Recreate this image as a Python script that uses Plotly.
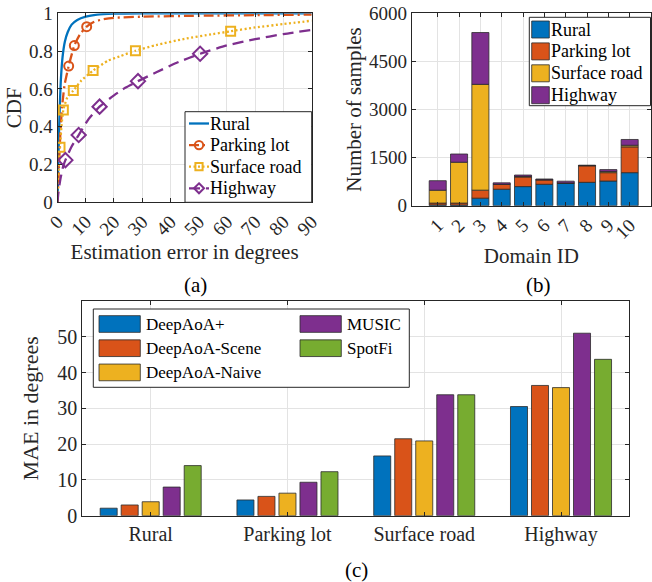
import numpy as np
import plotly.graph_objects as go

W, H = 652, 582
FONT = "Times New Roman, Tinos, Liberation Serif, serif"
TXT = "#262626"
AX = "#262626"
GRID = "#e3e3e3"
EDGE = "#2b2b2b"

BLUE, ORANGE, YELLOW, PURPLE, GREEN = "#0072BD", "#D95319", "#EDB120", "#7E2F8E", "#77AC30"

# ---------------- (a) CDF of estimation error per scene ----------------
scenes = ["Rural", "Parking lot", "Surface road", "Highway"]

rural_err = [0, 0.2, 0.5, 0.8, 1.2, 1.8, 2.6, 3.6, 5, 7, 10, 14, 20, 30, 90]
rural_cdf = [0, 0.15, 0.35, 0.5, 0.65, 0.77, 0.85, 0.9, 0.94, 0.965, 0.982, 0.993, 0.998, 1.0, 1.0]

parking_err = [0, 0.3, 0.6, 1.0, 1.6, 2.5, 3.96, 5.96, 8, 10.33, 13, 16, 20, 30, 50, 70, 90]
parking_cdf = [0, 0.1, 0.22, 0.36, 0.5, 0.62, 0.721, 0.829, 0.89, 0.929, 0.955, 0.968, 0.976,
               0.982, 0.987, 0.99, 0.993]
parking_mk_err = [3.96, 5.96, 10.33]
parking_mk_cdf = [0.721, 0.829, 0.929]

surface_err = [0, 0.2, 0.5, 0.89, 1.4, 2.07, 3.5, 5.6, 8.5, 12.6, 18, 22, 27.6, 35, 45, 55,
               61.3, 70, 80, 90]
surface_cdf = [0, 0.1, 0.2, 0.291, 0.4, 0.489, 0.555, 0.591, 0.645, 0.697, 0.75, 0.772, 0.802,
               0.832, 0.865, 0.89, 0.905, 0.925, 0.943, 0.961]
surface_mk_err = [0.89, 2.07, 5.6, 12.6, 27.6, 61.3]
surface_mk_cdf = [0.291, 0.489, 0.591, 0.697, 0.802, 0.905]

highway_err = [0, 0.3, 1, 2, 2.8, 5, 7.5, 11, 14.9, 20, 24, 28.5, 35, 42, 50.5, 60, 70, 80, 90]
highway_cdf = [0, 0.05, 0.12, 0.19, 0.223, 0.295, 0.356, 0.44, 0.506, 0.566, 0.606, 0.641,
               0.688, 0.737, 0.786, 0.83, 0.863, 0.89, 0.912]
highway_mk_err = [2.8, 7.5, 14.9, 28.5, 50.5]
highway_mk_cdf = [0.223, 0.356, 0.506, 0.641, 0.786]

err_ticks = list(range(0, 91, 10))
cdf_ticks = [0, 0.2, 0.4, 0.6, 0.8, 1]
cdf_ticktext = ["0", "0.2", "0.4", "0.6", "0.8", "1"]

# ---------------- (b) number of samples per domain ----------------
domain_ids = list(range(1, 11))
rural_cnt = [25, 20, 235, 514, 596, 668, 695, 729, 770, 1030]
parking_cnt = [57, 62, 250, 154, 300, 135, 15, 514, 260, 805]
surface_cnt = [401, 1274, 3300, 0, 15, 10, 0, 10, 35, 50]
highway_cnt = [297, 256, 1615, 45, 45, 20, 55, 10, 60, 180]
count_ticks = [0, 1500, 3000, 4500, 6000]

# ---------------- (c) MAE per method and scene ----------------
methods = ["DeepAoA+", "DeepAoA-Scene", "DeepAoA-Naive", "MUSIC", "SpotFi"]
mae_deepaoa_plus = [2.1, 4.4, 16.7, 30.5]
mae_deepaoa_scene = [3.0, 5.4, 21.5, 36.4]
mae_deepaoa_naive = [3.9, 6.3, 20.9, 35.8]
mae_music = [8.0, 9.35, 33.8, 51.0]
mae_spotfi = [14.0, 12.3, 33.8, 43.7]
mae_ticks = [0, 10, 20, 30, 40, 50]


def px(x):
    return x / W


def py(y):
    return 1 - y / H


fig = go.Figure()

# (a) curves
curve_specs = [
    (scenes[0], rural_err, rural_cdf, None, None, BLUE, "solid", None),
    (scenes[1], parking_err, parking_cdf, parking_mk_err, parking_mk_cdf, ORANGE,
     "10px,4px,2px,4px", "circle-open"),
    (scenes[2], surface_err, surface_cdf, surface_mk_err, surface_mk_cdf, YELLOW,
     "2px,2.5px", "square-open"),
    (scenes[3], highway_err, highway_cdf, highway_mk_err, highway_mk_cdf, PURPLE,
     "11px,6px", "diamond-open"),
]
for name, xe, yc, mx, my, col, dash, sym in curve_specs:
    fig.add_trace(go.Scatter(
        x=xe, y=yc, mode="lines", name=name, showlegend=False, hoverinfo="skip",
        line=dict(color=col, width=2.3, dash=dash, shape="spline", smoothing=0.6),
        xaxis="x", yaxis="y"))
    if mx is not None:
        fig.add_trace(go.Scatter(
            x=mx, y=my, mode="markers", name=name, showlegend=False, hoverinfo="skip",
            marker=dict(symbol=sym, size=9 if sym != "diamond-open" else 11, color=col,
                        line=dict(width=2, color=col)),
            xaxis="x", yaxis="y"))

# (b) stacked bars
scene_colors = [BLUE, ORANGE, YELLOW, PURPLE]
base = np.zeros(len(domain_ids))
for name, vals, col in zip(scenes, [rural_cnt, parking_cnt, surface_cnt, highway_cnt], scene_colors):
    vals = np.array(vals, dtype=float)
    fig.add_trace(go.Bar(
        x=domain_ids, y=vals, base=base.copy(), width=0.8, offsetgroup="counts", name=name,
        showlegend=False, marker=dict(color=col, line=dict(color=EDGE, width=0.8)),
        xaxis="x2", yaxis="y2"))
    base = base + vals

# (c) grouped bars
method_colors = [BLUE, ORANGE, YELLOW, PURPLE, GREEN]
method_vals = [mae_deepaoa_plus, mae_deepaoa_scene, mae_deepaoa_naive, mae_music, mae_spotfi]
for name, vals, col in zip(methods, method_vals, method_colors):
    fig.add_trace(go.Bar(
        x=scenes, y=vals, name=name, showlegend=False,
        marker=dict(color=col, line=dict(color=EDGE, width=0.8)),
        xaxis="x3", yaxis="y3"))


def tfont(size, color=TXT):
    return dict(family=FONT, size=size, color=color)


def axis(**kw):
    d = dict(showline=True, linecolor=AX, linewidth=1, mirror="ticks", ticks="inside",
             ticklen=4, tickcolor=AX, tickwidth=1, showgrid=True, gridcolor=GRID, gridwidth=1,
             zeroline=False, tickfont=tfont(19))
    d.update(kw)
    return d


layout = dict(
    width=W, height=H, margin=dict(l=0, r=0, t=0, b=0), template="none",
    paper_bgcolor="white", plot_bgcolor="white", barmode="group",
    bargap=0.232, bargroupgap=0.19, showlegend=False,
    font=dict(family=FONT, color=TXT),
    xaxis=axis(domain=[px(57.5), px(311.7)], range=[0, 90], tickvals=err_ticks,
               tickangle=-45, anchor="y",
               title=dict(text="Estimation error in degrees", font=tfont(21), standoff=4)),
    yaxis=axis(domain=[py(202.3), py(13.3)], range=[0, 1], tickvals=cdf_ticks,
               ticktext=cdf_ticktext, anchor="x",
               title=dict(text="CDF", font=tfont(21), standoff=1)),
    xaxis2=axis(domain=[px(411.7), px(651)], range=[-0.22, 11], tickvals=domain_ids,
                tickangle=-45, anchor="y2",
                title=dict(text="Domain ID", font=tfont(21), standoff=6)),
    yaxis2=axis(domain=[py(205.7), py(13.3)], range=[0, 6000], tickvals=count_ticks,
                anchor="x2",
                title=dict(text="Number of samples", font=tfont(21), standoff=1)),
    xaxis3=axis(domain=[px(82.3), px(629.4)], range=[-0.5, 3.5], type="category",
                anchor="y3", tickfont=tfont(20)),
    yaxis3=axis(domain=[py(515.7), py(301)], range=[0, 60], tickvals=mae_ticks,
                anchor="x3", tickfont=tfont(20),
                title=dict(text="MAE in degrees", font=tfont(22), standoff=12)),
)
fig.update_layout(**layout)

shapes = []
annotations = []


def legend_box(x0, y0, x1, y1):
    shapes.append(dict(type="rect", xref="paper", yref="paper", x0=px(x0), x1=px(x1),
                       y0=py(y1), y1=py(y0), fillcolor="white",
                       line=dict(color=AX, width=1), layer="above"))


def legend_text(x, y, text, size):
    annotations.append(dict(x=px(x), y=py(y), xref="paper", yref="paper", text=text,
                            showarrow=False, xanchor="left", yanchor="middle",
                            font=tfont(size, "black")))


def legend_swatch(x0, x1, yc, h, col):
    shapes.append(dict(type="rect", xref="paper", yref="paper", x0=px(x0), x1=px(x1),
                       y0=py(yc + h / 2), y1=py(yc - h / 2), fillcolor=col,
                       line=dict(color=EDGE, width=0.8), layer="above"))


# legend (a)
legend_box(185, 111.7, 311.7, 202.3)
for i, (name, _, _, _, _, col, dash, sym) in enumerate(curve_specs):
    yc = 123.5 + 21.6 * i
    shapes.append(dict(type="line", xref="paper", yref="paper", x0=px(189), x1=px(209),
                       y0=py(yc), y1=py(yc), line=dict(color=col, width=2.3, dash=dash),
                       layer="above"))
    cx, r = 199, 4.2
    if sym == "circle-open":
        shapes.append(dict(type="circle", xref="paper", yref="paper", x0=px(cx - r),
                           x1=px(cx + r), y0=py(yc + r), y1=py(yc - r),
                           line=dict(color=col, width=2), layer="above"))
    elif sym == "square-open":
        r = 3.6
        shapes.append(dict(type="rect", xref="paper", yref="paper", x0=px(cx - r),
                           x1=px(cx + r), y0=py(yc + r), y1=py(yc - r),
                           line=dict(color=col, width=2), layer="above"))
    elif sym == "diamond-open":
        r = 5
        path = (f"M {px(cx)},{py(yc - r)} L {px(cx + r)},{py(yc)} "
                f"L {px(cx)},{py(yc + r)} L {px(cx - r)},{py(yc)} Z")
        shapes.append(dict(type="path", xref="paper", yref="paper", path=path,
                           line=dict(color=col, width=2), layer="above"))
    legend_text(208, yc, name, 18)

# legend (b)
legend_box(529.3, 17.3, 650.5, 105.7)
for i, (name, col) in enumerate(zip(scenes, scene_colors)):
    yc = 29.5 + 21.9 * i
    legend_swatch(531.7, 549.3, yc, 17, col)
    legend_text(548.5, yc, name, 18)

# legend (c): two columns
legend_box(93.3, 309, 409.3, 387.3)
for i, (name, col) in enumerate(zip(methods, method_colors)):
    colnum, row = (0, i) if i < 3 else (1, i - 3)
    yc = 324 + 24.2 * row
    x0 = 99 if colnum == 0 else 300
    legend_swatch(x0, x0 + 41.3, yc, 16.7, col)
    legend_text(x0 + 44.5, yc, name, 17)

# panel captions
for text, x, y in [("(a)", 195, 285), ("(b)", 538.3, 285), ("(c)", 356, 570)]:
    annotations.append(dict(x=px(x), y=py(y), xref="paper", yref="paper", text=text,
                            showarrow=False, xanchor="center", yanchor="middle",
                            font=tfont(21, "black")))

fig.update_layout(shapes=shapes, annotations=annotations)
fig.write_html("out.html")
